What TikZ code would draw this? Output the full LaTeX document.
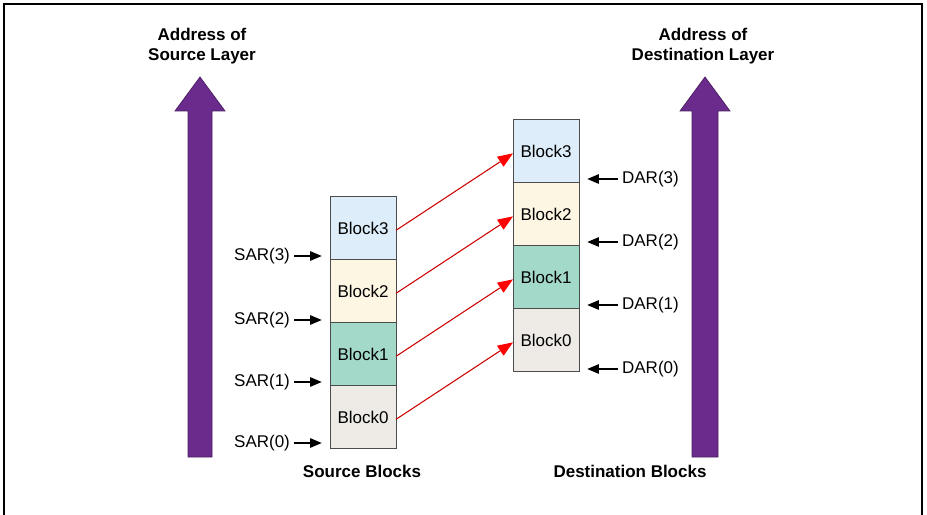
\documentclass[tikz,border=0pt]{standalone}
\usepackage{fontspec}
\setmainfont{Liberation Sans}
\usetikzlibrary{positioning,arrows.meta}
\definecolor{blkblue}{HTML}{DDEEFA}
\definecolor{blkcream}{HTML}{FCF6E2}
\definecolor{blkteal}{HTML}{A3D9C9}
\definecolor{blkgray}{HTML}{EEEBE7}
\definecolor{addrpurple}{HTML}{6A2B8C}
\begin{document}
\begin{tikzpicture}[
  x=0.03cm, y=-0.03cm,
  font=\fontsize{14.5}{17.5}\selectfont,
  blk/.style = {draw=black!70, line width=0.8pt, minimum width=1.98cm,
    minimum height=1.89cm, inner sep=0pt, outer sep=0pt},
  addrlbl/.style = {font=\fontsize{14.5}{17.5}\selectfont\bfseries, align=center},
  addrarrow/.style = {fill=addrpurple, draw=addrpurple!70!black, line width=0.6pt},
  copyarrow/.style = {draw=red!80!black, line width=0.9pt,
    -{Triangle[length=13pt, width=10pt, color=red]}},
  ptr/.style = {line width=1.4pt, -{Triangle[length=10pt, width=8pt]}}
]
  \useasboundingbox (0,0) rectangle (927,515);
  % frame
  \draw[line width=1pt] (4,515) -- (4,4) -- (922,4) -- (922,515);
  % address axes
  \draw[addrarrow] (188,457) -- (188,111) -- (175,111) -- (200,77)
    -- (225,111) -- (212,111) -- (212,457) -- cycle;
  \draw[addrarrow] (692,457) -- (692,111) -- (680,111) -- (705,77)
    -- (730,111) -- (718,111) -- (718,457) -- cycle;
  \node[addrlbl] (srcaddr) at (202,46) {Address of\\Source Layer};
  \node[addrlbl] (dstaddr) at (703,46) {Address of\\Destination Layer};
  % source blocks
  \node[blk, fill=blkgray] (s0) at (363,417) {Block0};
  \node[blk, fill=blkteal, above=0pt of s0] (s1) {Block1};
  \node[blk, fill=blkcream, above=0pt of s1] (s2) {Block2};
  \node[blk, fill=blkblue, above=0pt of s2] (s3) {Block3};
  \node[addrlbl] (srccap) at (362,471) {Source Blocks};
  % destination blocks
  \node[blk, fill=blkgray] (d0) at (546,340) {Block0};
  \node[blk, fill=blkteal, above=0pt of d0] (d1) {Block1};
  \node[blk, fill=blkcream, above=0pt of d1] (d2) {Block2};
  \node[blk, fill=blkblue, above=0pt of d2] (d3) {Block3};
  \node[addrlbl] (dstcap) at (630,471) {Destination Blocks};
  % block copies
  \foreach \i in {0,...,3}
    \draw[copyarrow] ([yshift=-2pt]s\i.east) -- ([yshift=-2pt]d\i.west);
  % source address registers
  \node[anchor=east] (sar0) at (294,443) {SAR(0)};
  \node[anchor=east] (sar1) at (294,382) {SAR(1)};
  \node[anchor=east] (sar2) at (294,320) {SAR(2)};
  \node[anchor=east] (sar3) at (294,256) {SAR(3)};
  \foreach \i in {0,...,3}
    \draw[ptr] (sar\i.east) -- ([xshift=-7pt]sar\i.east -| s0.west);
  % destination address registers
  \node[anchor=west] (dar0) at (618,369) {DAR(0)};
  \node[anchor=west] (dar1) at (618,305) {DAR(1)};
  \node[anchor=west] (dar2) at (618,242) {DAR(2)};
  \node[anchor=west] (dar3) at (618,179) {DAR(3)};
  \foreach \i in {0,...,3}
    \draw[ptr] (dar\i.west) -- ([xshift=7pt]dar\i.west -| d0.east);
\end{tikzpicture}
\end{document}
